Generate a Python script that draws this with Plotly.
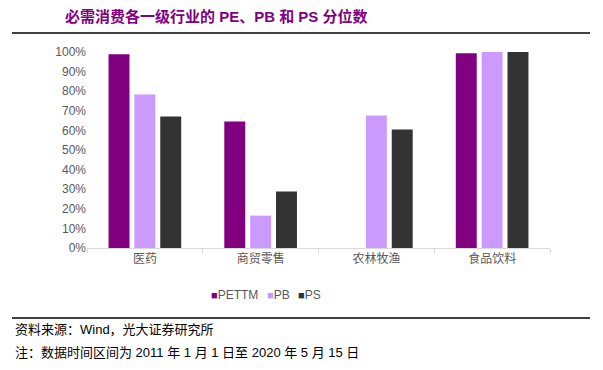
import plotly.graph_objects as go

categories = ["医药", "商贸零售", "农林牧渔", "食品饮料"]
pettm = [0.988, 0.645, None, 0.993]
pb = [0.783, 0.165, 0.676, 1.0]
ps = [0.671, 0.288, 0.604, 1.0]
series_names = ["PETTM", "PB", "PS"]
colors = ["#800080", "#CC99FF", "#333333"]

OFF = 8  # browser default body margin
W, H = 603 - OFF, 370 - OFF
# plot area in page pixels
L, R, T, B = 87, 550, 52, 248

def px(x):
    return (x - L) / (R - L)

def py(y):
    return (B - y) / (B - T)

fig = go.Figure()
for name, vals, c in zip(series_names, [pettm, pb, ps], colors):
    fig.add_trace(go.Bar(x=categories, y=vals, name=name, marker_color=c,
                         marker_line_width=0))

font_fam = "Arial, Liberation Sans, Noto Sans CJK SC, sans-serif"
fig.update_layout(
    width=W, height=H,
    margin=dict(l=L - OFF, r=603 - R, t=T - OFF, b=370 - B, autoexpand=False),
    plot_bgcolor="white", paper_bgcolor="white",
    barmode="group", bargap=0.33, bargroupgap=0.19,
    font=dict(family=font_fam, size=12, color="#595959"),
    showlegend=False,
    xaxis=dict(showline=True, linecolor="#D9D9D9", linewidth=1, ticks="outside",
               tickson="boundaries", ticklen=4, tickcolor="#D9D9D9",
               tickfont=dict(size=12, color="#595959"), showgrid=False),
    yaxis=dict(range=[0, 1.0], dtick=0.1, tickformat=".0%", showgrid=False,
               zeroline=False, showline=False, ticks="",
               tickfont=dict(size=12, color="#595959")),
)

fig.add_shape(type="line", xref="paper", yref="paper", x0=px(12), x1=px(590),
              y0=py(33), y1=py(33), line=dict(color="black", width=1.5))
fig.add_shape(type="line", xref="paper", yref="paper", x0=px(12), x1=px(590),
              y0=py(318), y1=py(318), line=dict(color="black", width=1.5))

legend_x = [209, 265, 296]
for n, c, lx in zip(series_names, colors, legend_x):
    fig.add_annotation(xref="paper", yref="paper", x=px(lx), y=py(295), xanchor="left",
                       yanchor="middle", showarrow=False,
                       text=f"<span style='color:{c}; font-size:11px'>■</span>{n}",
                       font=dict(size=12, color="#595959", family=font_fam))

fig.add_annotation(xref="paper", yref="paper", x=px(63), y=py(17), xanchor="left",
                   yanchor="middle", showarrow=False,
                   text="<b>必需消费各一级行业的 PE、PB 和 PS 分位数</b>",
                   font=dict(size=15, color="#800080", family=font_fam))
fig.add_annotation(xref="paper", yref="paper", x=px(13), y=py(329), xanchor="left",
                   yanchor="middle", showarrow=False,
                   text="资料来源：Wind，光大证券研究所",
                   font=dict(size=13, color="black", family=font_fam))
fig.add_annotation(xref="paper", yref="paper", x=px(13), y=py(352), xanchor="left",
                   yanchor="middle", showarrow=False,
                   text="注：数据时间区间为 2011 年 1 月 1 日至 2020 年 5 月 15 日",
                   font=dict(size=13, color="black", family=font_fam))

fig.write_html("out.html")
